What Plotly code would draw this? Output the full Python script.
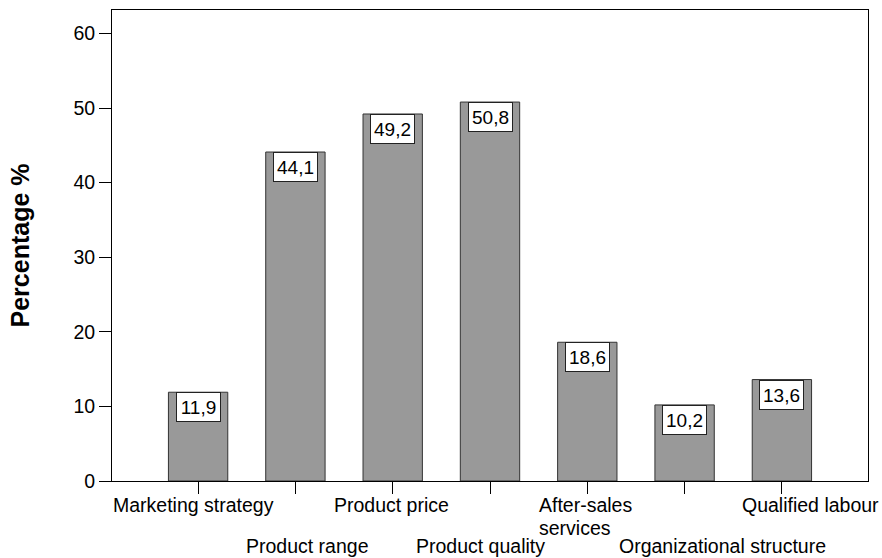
import plotly.graph_objects as go

categories = ["Marketing strategy", "Product range", "Product price", "Product quality",
              "After-sales services", "Organizational structure", "Qualified labour"]
values = [11.9, 44.1, 49.2, 50.8, 18.6, 10.2, 13.6]
tick_labels = [["Marketing strategy"], ["Product range"], ["Product price"], ["Product quality"],
               ["After-sales", "services"], ["Organizational structure"], ["Qualified labour"]]
y_ticks = [0, 10, 20, 30, 40, 50, 60]

# layout of the category labels (pixel nudges as in the original chart)
label_anchor = ["center", "center", "center", "center", "left", "center", "center"]
label_xshift = [-5, 12.5, -1, -10, -50.3, 38, 28.7]

FONT = "Arial, Liberation Sans, sans-serif"

fig = go.Figure()
fig.add_trace(go.Bar(
    x=categories, y=values, width=0.61,
    marker=dict(color="#999999", line=dict(color="#333333", width=1)),
    hoverinfo="skip",
))

annotations = []
for cat, v in zip(categories, values):
    annotations.append(dict(
        x=cat, y=v, xref="x", yref="y", yanchor="top", xanchor="center",
        text=f"{v:.1f}".replace(".", ","), showarrow=False,
        font=dict(family=FONT, size=19, color="black"),
        bgcolor="white", bordercolor="#222222", borderwidth=1, borderpad=1,
        width=41, height=26,
    ))

for i, (cat, lines) in enumerate(zip(categories, tick_labels)):
    base = -24 if i % 2 == 0 else -65
    for j, line in enumerate(lines):
        annotations.append(dict(
            x=cat, y=0, xref="x", yref="paper", yanchor="middle",
            xanchor=label_anchor[i], align=label_anchor[i],
            xshift=label_xshift[i], yshift=base - 22.5 * j,
            text=line, showarrow=False,
            font=dict(family=FONT, size=19.5, color="black"),
        ))

fig.update_layout(
    width=882, height=558,
    margin=dict(l=112, r=14, t=10, b=77),
    paper_bgcolor="white", plot_bgcolor="white",
    showlegend=False,
    annotations=annotations,
    xaxis=dict(
        type="category", range=[-0.885, len(categories) - 1 + 0.885],
        showgrid=False, zeroline=False,
        showline=True, linecolor="black", linewidth=1, mirror=True,
        ticks="outside", ticklen=12, tickcolor="black", tickwidth=1,
        showticklabels=False,
    ),
    yaxis=dict(
        range=[0, 63.14], tickvals=y_ticks,
        showgrid=False, zeroline=False,
        showline=True, linecolor="black", linewidth=1, mirror=True,
        ticks="outside", ticklen=12, tickcolor="black", tickwidth=1,
        tickfont=dict(family=FONT, size=19.5, color="black"),
        title=dict(text="<b>Percentage %</b>", font=dict(family=FONT, size=25, color="black"), standoff=36),
    ),
)

fig.write_html("out.html")
